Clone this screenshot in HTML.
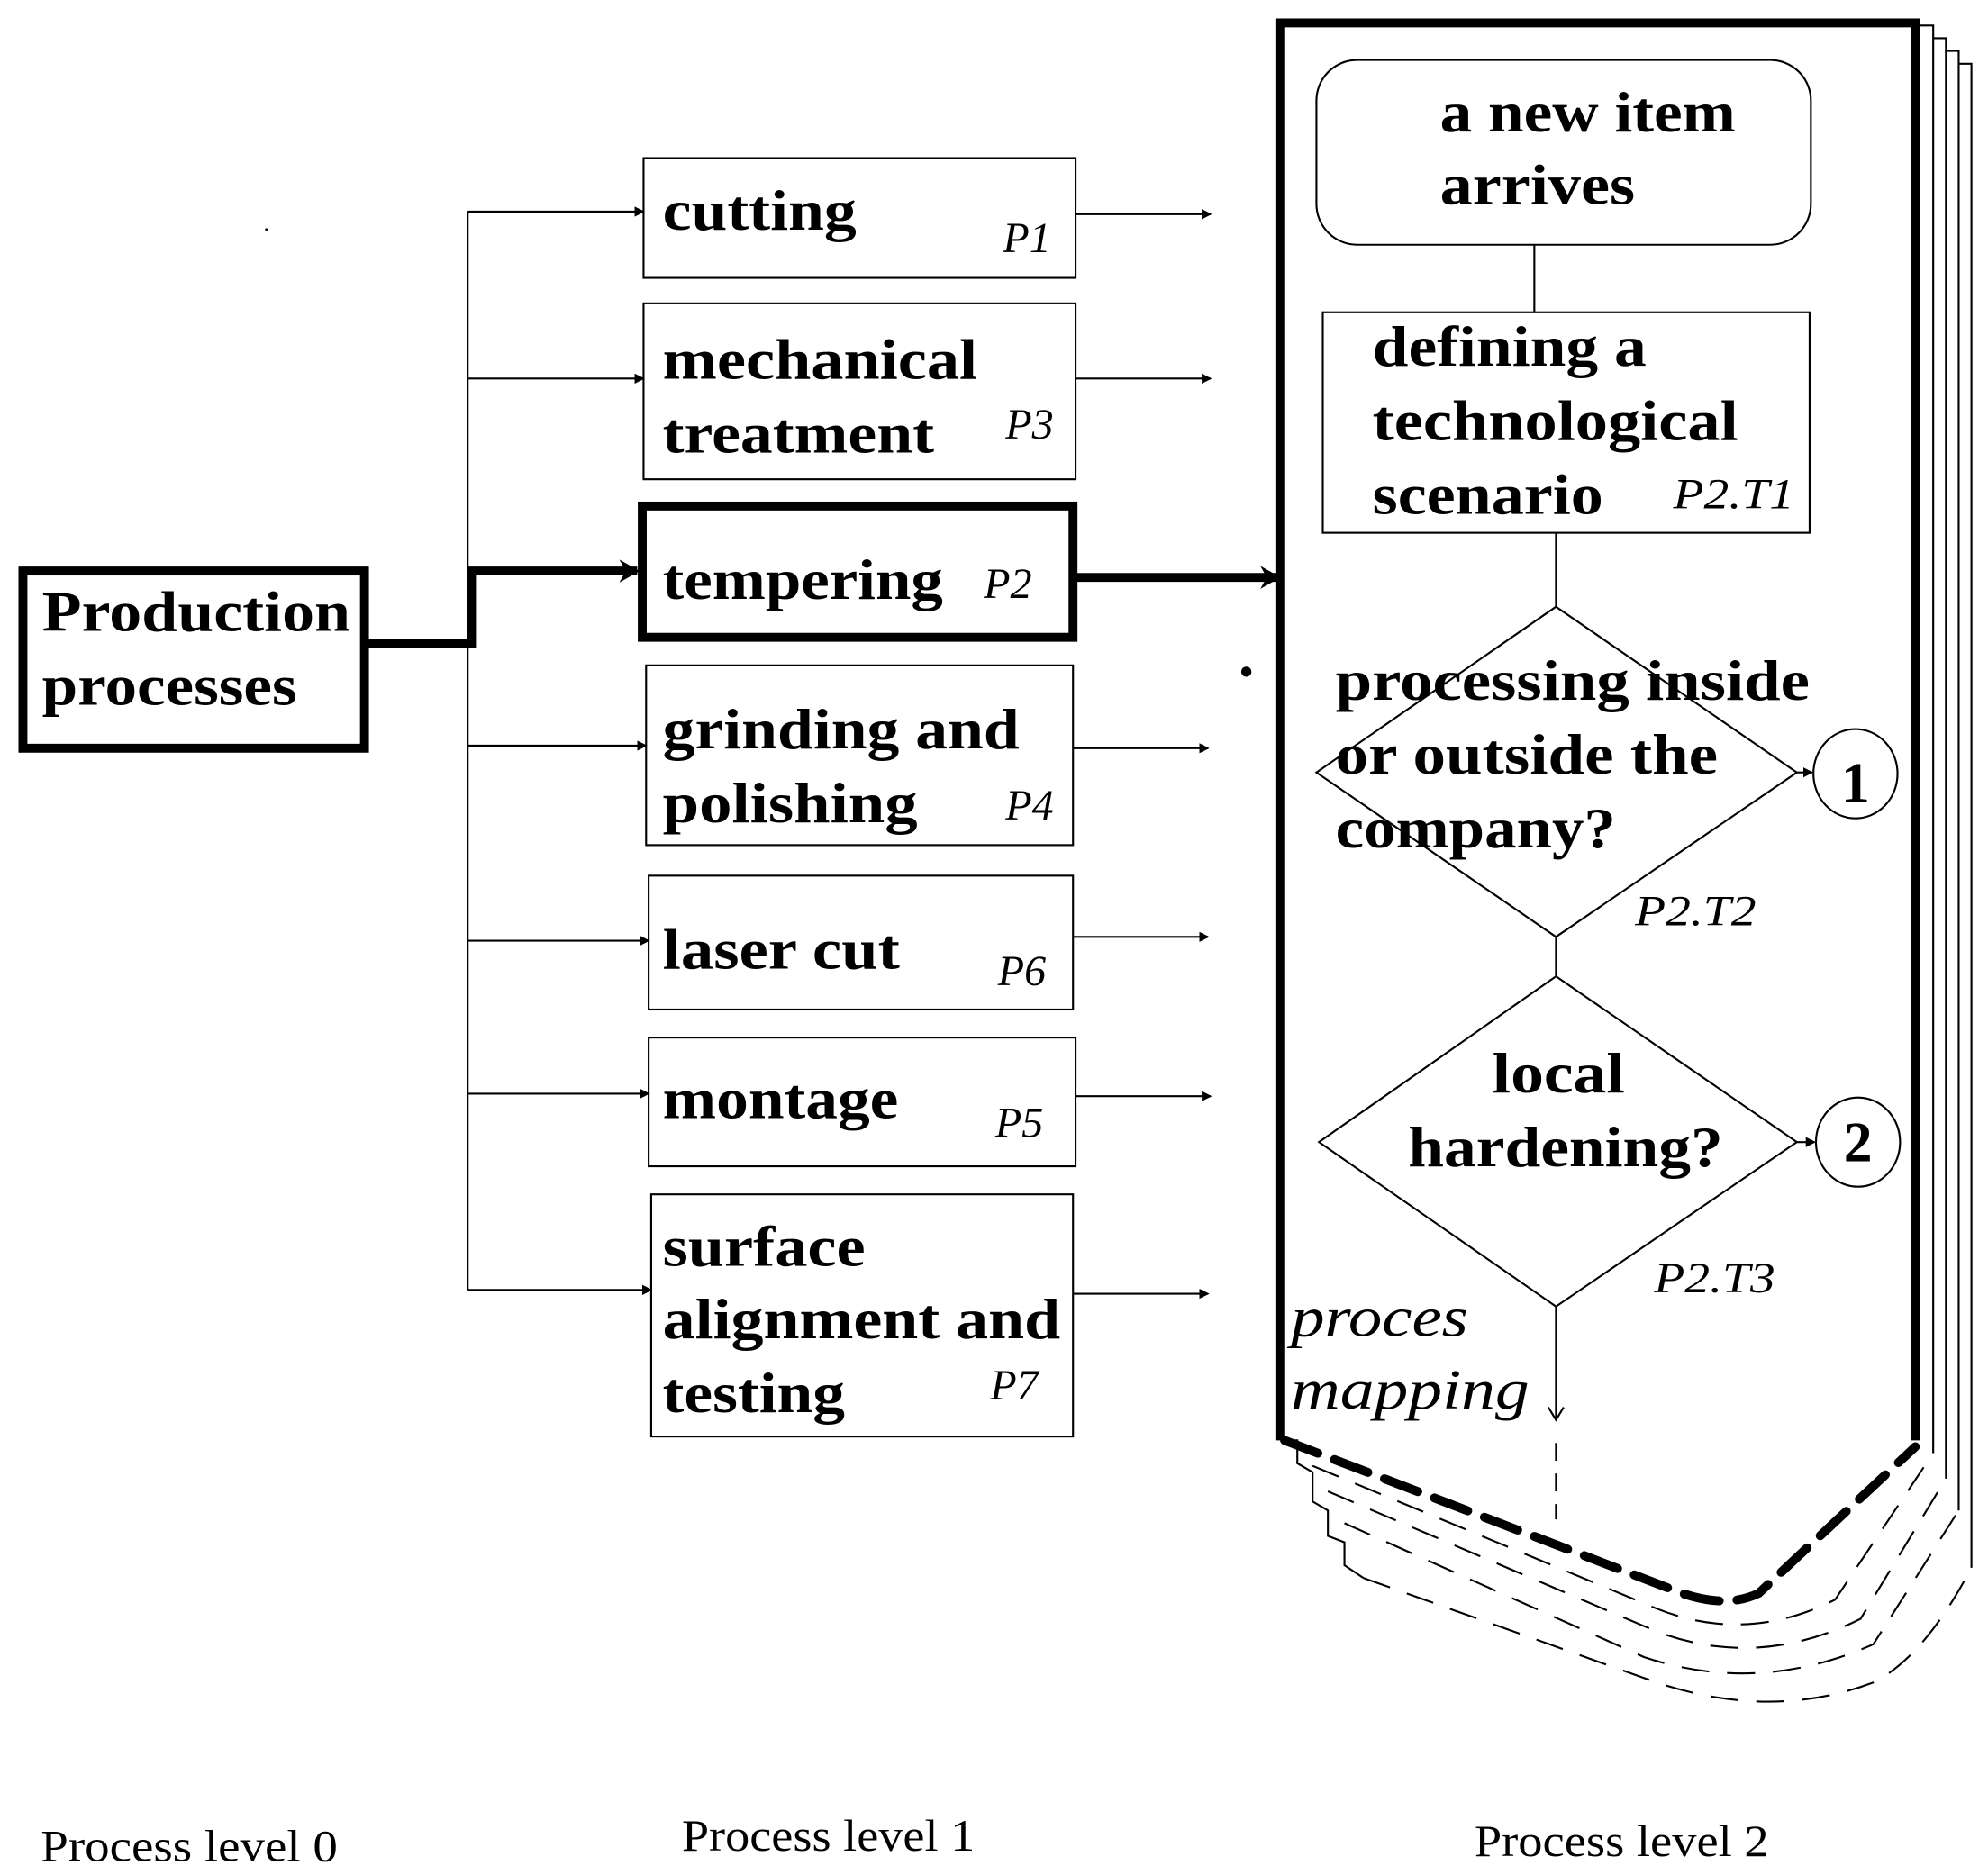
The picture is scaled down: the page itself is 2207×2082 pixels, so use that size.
<!DOCTYPE html>
<html><head><meta charset="utf-8"><style>
html,body{margin:0;padding:0;background:#fff}
svg{display:block}
.b{font-family:"Liberation Serif",serif;font-weight:bold;font-size:45px}
.i{font-family:"Liberation Serif",serif;font-style:italic;font-size:34px}
.r{font-family:"Liberation Serif",serif;font-size:35px}
</style></head><body>
<svg width="2207" height="2082" viewBox="0 0 1560 1471" preserveAspectRatio="none" xmlns="http://www.w3.org/2000/svg">
<defs>
<marker id="a" markerWidth="8" markerHeight="8" refX="7" refY="4" orient="auto" markerUnits="userSpaceOnUse"><path d="M0,0 L8,4 L0,8 z" fill="#000"/></marker>
<marker id="A" markerWidth="16" markerHeight="18" refX="14" refY="9" orient="auto" markerUnits="userSpaceOnUse"><path d="M0,0 L16,9 L0,18 L5,9 z" fill="#000"/></marker>
</defs>
<g fill="none" stroke="#000">
<g stroke-width="1.5">
<path d="M1503,20 H1517 V1140"/>
<path d="M1517,30 H1527 V1160"/>
<path d="M1527,40 H1537 V1185"/>
<path d="M1537,50 H1547 V1230"/>
<path d="M1005,1130 H1018 V1148 L1030,1155 V1178 L1042,1185 V1205 L1055,1210 V1228 L1070,1238"/>
</g>
<g stroke-width="1.5" stroke-dasharray="22,14">
<path d="M1030,1150 L1300,1262 Q1370,1290 1440,1255 L1517,1140"/>
<path d="M1042,1170 L1300,1280 Q1380,1310 1460,1270 L1527,1160"/>
<path d="M1055,1195 L1290,1300 Q1380,1330 1470,1290 L1537,1185"/>
<path d="M1070,1238 L1300,1320 Q1390,1350 1470,1320 Q1510,1300 1547,1230"/>
</g>
<path d="M1005,1130 V18 H1503 V1130" stroke-width="7"/>
<path d="M1008,1130 L1320,1250 Q1355,1262 1380,1250 L1503,1135" stroke-width="7" stroke-dasharray="28,14" stroke-linecap="round"/>
<rect x="18" y="448" width="268" height="139" stroke-width="7"/>
<path d="M287,505 H370 V448 H500" stroke-width="7" marker-end="url(#A)"/>
<path d="M367,166 V1012" stroke-width="1.5"/>
<g stroke-width="1.5">
<path d="M367,166 H505" marker-end="url(#a)"/>
<path d="M367,297 H505" marker-end="url(#a)"/>
<path d="M367,585 H507" marker-end="url(#a)"/>
<path d="M367,738 H509" marker-end="url(#a)"/>
<path d="M367,858 H509" marker-end="url(#a)"/>
<path d="M367,1012 H511" marker-end="url(#a)"/>
<rect x="505" y="124" width="339" height="94"/>
<rect x="505" y="238" width="339" height="138"/>
<rect x="507" y="522" width="335" height="141"/>
<rect x="509" y="687" width="333" height="105"/>
<rect x="509" y="814" width="335" height="101"/>
<rect x="511" y="937" width="331" height="190"/>
<path d="M844,168 H950" marker-end="url(#a)"/>
<path d="M844,297 H950" marker-end="url(#a)"/>
<path d="M842,587 H948" marker-end="url(#a)"/>
<path d="M842,735 H948" marker-end="url(#a)"/>
<path d="M844,860 H950" marker-end="url(#a)"/>
<path d="M842,1015 H948" marker-end="url(#a)"/>
</g>
<rect x="504" y="397" width="338" height="103" stroke-width="7"/>
<path d="M842,453 H1003" stroke-width="7" marker-end="url(#A)"/>
<g stroke-width="1.5">
<rect x="1033" y="47" width="388" height="145" rx="32"/>
<path d="M1204,192 V245"/>
<rect x="1038" y="245" width="382" height="173"/>
<path d="M1221,418 V476"/>
<path d="M1221,476 L1410,606 L1221,735 L1033,606 Z"/>
<path d="M1410,606 H1422" marker-end="url(#a)"/>
<ellipse cx="1456" cy="607" rx="33" ry="35"/>
<path d="M1221,735 V766"/>
<path d="M1221,766 L1410,896 L1221,1025 L1035,896 Z"/>
<path d="M1410,896 H1424" marker-end="url(#a)"/>
<ellipse cx="1458" cy="896" rx="33" ry="35"/>
<path d="M1221,1025 V1112 M1215,1104 L1221,1114 L1227,1104"/>
<path d="M1221,1132 V1192" stroke-dasharray="14,10"/>
</g>
</g>
<circle cx="978" cy="527" r="4" fill="#000"/>
<circle cx="209" cy="180" r="1" fill="#000"/>
<g fill="#000">
<text class="b" x="33" y="495" textLength="242" lengthAdjust="spacingAndGlyphs">Production</text>
<text class="b" x="33" y="553" textLength="200" lengthAdjust="spacingAndGlyphs">processes</text>
<text class="b" x="520" y="180" textLength="152" lengthAdjust="spacingAndGlyphs">cutting</text><text class="i" x="787" y="198">P1</text>
<text class="b" x="520" y="297" textLength="247" lengthAdjust="spacingAndGlyphs">mechanical</text>
<text class="b" x="520" y="355" textLength="213" lengthAdjust="spacingAndGlyphs">treatment</text><text class="i" x="789" y="344">P3</text>
<text class="b" x="520" y="470" textLength="220" lengthAdjust="spacingAndGlyphs">tempering</text><text class="i" x="772" y="469">P2</text>
<text class="b" x="520" y="587" textLength="280" lengthAdjust="spacingAndGlyphs">grinding and</text>
<text class="b" x="520" y="645" textLength="200" lengthAdjust="spacingAndGlyphs">polishing</text><text class="i" x="789" y="643">P4</text>
<text class="b" x="520" y="760" textLength="186" lengthAdjust="spacingAndGlyphs">laser cut</text><text class="i" x="783" y="773">P6</text>
<text class="b" x="520" y="877" textLength="185" lengthAdjust="spacingAndGlyphs">montage</text><text class="i" x="781" y="892">P5</text>
<text class="b" x="520" y="993" textLength="159" lengthAdjust="spacingAndGlyphs">surface</text>
<text class="b" x="520" y="1050" textLength="312" lengthAdjust="spacingAndGlyphs">alignment and</text>
<text class="b" x="520" y="1108" textLength="143" lengthAdjust="spacingAndGlyphs">testing</text><text class="i" x="777" y="1098">P7</text>
<text class="b" x="1130" y="103" textLength="232" lengthAdjust="spacingAndGlyphs">a new item</text>
<text class="b" x="1130" y="160" textLength="153" lengthAdjust="spacingAndGlyphs">arrives</text>
<text class="b" x="1077" y="287" textLength="215" lengthAdjust="spacingAndGlyphs">defining a</text>
<text class="b" x="1077" y="345" textLength="287" lengthAdjust="spacingAndGlyphs">technological</text>
<text class="b" x="1077" y="403" textLength="181" lengthAdjust="spacingAndGlyphs">scenario</text><text class="i" x="1313" y="399" textLength="95" lengthAdjust="spacingAndGlyphs">P2.T1</text>
<text class="b" x="1048" y="549" textLength="372" lengthAdjust="spacingAndGlyphs">processing inside</text>
<text class="b" x="1048" y="607" textLength="300" lengthAdjust="spacingAndGlyphs">or outside the</text>
<text class="b" x="1048" y="665" textLength="220" lengthAdjust="spacingAndGlyphs">company?</text>
<text class="i" x="1283" y="726" textLength="95" lengthAdjust="spacingAndGlyphs">P2.T2</text>
<text class="b" x="1456" y="629" text-anchor="middle">1</text>
<text class="b" x="1171" y="857" textLength="104" lengthAdjust="spacingAndGlyphs">local</text>
<text class="b" x="1105" y="915" textLength="247" lengthAdjust="spacingAndGlyphs">hardening?</text>
<text class="b" x="1458" y="911" text-anchor="middle">2</text>
<text class="i" x="1298" y="1014" textLength="95" lengthAdjust="spacingAndGlyphs">P2.T3</text>
<text class="i" x="1013" y="1048" style="font-size:44px" textLength="139" lengthAdjust="spacingAndGlyphs">proces</text>
<text class="i" x="1013" y="1105" style="font-size:44px" textLength="187" lengthAdjust="spacingAndGlyphs">mapping</text>
<text class="r" x="32" y="1460" textLength="233" lengthAdjust="spacingAndGlyphs">Process level 0</text>
<text class="r" x="535" y="1452" textLength="230" lengthAdjust="spacingAndGlyphs">Process level 1</text>
<text class="r" x="1157" y="1456" textLength="231" lengthAdjust="spacingAndGlyphs">Process level 2</text>
</g>
</svg>
</body></html>
